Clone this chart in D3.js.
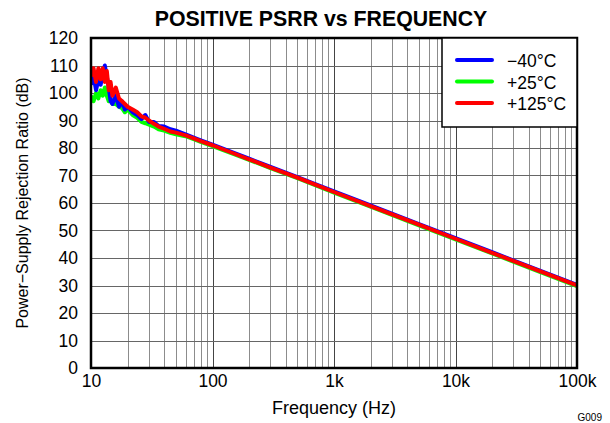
<!DOCTYPE html>
<html><head><meta charset="utf-8">
<script src="https://cdn.jsdelivr.net/npm/d3@7"></script>
<style>body{margin:0;background:#fff}svg{display:block;font-family:"Liberation Sans",Arial,sans-serif}</style>
</head><body><svg id="c" width="610" height="423"></svg>
<script>
const freqs = [10,10.5,11,11.5,12,12.5,13,13.5,14,14.5,15,16,17,18,19,20,22,24,26,28,30,33,36,40,45,50,60,70,80,100,150,200,300,500,700,1000,2000,5000,10000,20000,50000,100000];
const psrrM40 = [103,106,101,105,103,107,110,106,102,97,96,99,95,97,94,95,93,92,90.5,92,89.5,89.5,88,87.8,86.8,86.3,85,83.8,82.8,81.2,78.2,76.1,73.1,69.4,66.9,64.2,59.1,52.3,47.2,42.1,35.3,30.2];
const psrr25 = [99,97,100,98,101,99,102,99,97,98,96,96,95,94.5,93,94,92,91,89.5,89,88.5,87.8,86.8,86.3,85.5,85,84.3,83.2,82.2,80.7,77.8,75.7,72.7,69,66.5,63.8,58.7,51.9,46.8,41.7,34.9,29.8];
const psrr125 = [106,109,104,109,105,109,104,108,101,104,99,102,98,97,96,95,94,93,91.5,91,90,88.8,87.8,87,86,85.6,84.6,83.5,82.5,81,78,75.9,72.9,69.2,66.7,64,58.9,52.1,47,41.9,35.1,30];
const seriesNames = ["\u221240\u00b0C","+25\u00b0C","+125\u00b0C"];
const seriesColors = ["#0000ff","#00ff00","#ff0000"];
const yTicks = [0,10,20,30,40,50,60,70,80,90,100,110,120];
const xTicks = [10,100,1000,10000,100000];
const xTickLabels = ["10","100","1k","10k","100k"];

const svg = d3.select("#c");
const L=91, R=577, T=38, B=368;
const x = d3.scaleLog().domain([10,100000]).range([L,R]);
const y = d3.scaleLinear().domain([0,120]).range([B,T]);

// minor vertical grid
const minor=[];
for(let d=10; d<100000; d*=10) for(let k=2;k<=9;k++) minor.push(d*k);
svg.append("g").selectAll("line").data(minor).join("line")
  .attr("x1",d=>Math.round(x(d))+0.5).attr("x2",d=>Math.round(x(d))+0.5)
  .attr("y1",T).attr("y2",B).attr("stroke","#8c8c8c").attr("stroke-width",1);
svg.append("g").selectAll("line").data(xTicks).join("line")
  .attr("x1",d=>Math.round(x(d))+0.5).attr("x2",d=>Math.round(x(d))+0.5)
  .attr("y1",T).attr("y2",B).attr("stroke","#444").attr("stroke-width",1);
svg.append("g").selectAll("line").data(yTicks).join("line")
  .attr("x1",L).attr("x2",R)
  .attr("y1",d=>Math.round(y(d))+0.5).attr("y2",d=>Math.round(y(d))+0.5)
  .attr("stroke","#666").attr("stroke-width",1);

// axes labels via d3 axes
const yAxis = svg.append("g").attr("transform",`translate(${L},0)`)
  .call(d3.axisLeft(y).tickValues(yTicks).tickSize(0).tickPadding(13));
const xAxis = svg.append("g").attr("transform",`translate(0,${B})`)
  .call(d3.axisBottom(x).tickValues(xTicks).tickFormat((d,i)=>xTickLabels[i]).tickSize(0).tickPadding(7));
[yAxis,xAxis].forEach(a=>{a.select(".domain").remove();a.selectAll("text").attr("font-size",17.5).attr("fill","#000").attr("font-family","Liberation Sans, Arial, sans-serif");});

// data lines
const line = d3.line().x((d,i)=>x(freqs[i])).y(d=>y(d)).curve(d3.curveLinear);
svg.append("clipPath").attr("id","pc").append("rect").attr("x",L).attr("y",T).attr("width",R-L).attr("height",B-T);
const dataSets=[psrrM40,psrr25,psrr125];
const order=[1,0,2];
const g = svg.append("g").attr("clip-path","url(#pc)");
order.forEach(i=>{
  g.append("path").attr("d",line(dataSets[i])).attr("fill","none")
   .attr("stroke",seriesColors[i]).attr("stroke-width",4).attr("stroke-linejoin","round");
});

// border
svg.append("rect").attr("x",L).attr("y",T).attr("width",R-L).attr("height",B-T)
  .attr("fill","none").attr("stroke","#000").attr("stroke-width",2.5);

// legend
const lg = svg.append("g");
lg.append("rect").attr("x",442).attr("y",T).attr("width",R-442).attr("height",89)
  .attr("fill","#fff").attr("stroke","#000").attr("stroke-width",1.5);
seriesNames.forEach((n,i)=>{
  const yy = 60 + i*21.5;
  lg.append("line").attr("x1",457).attr("x2",492).attr("y1",yy).attr("y2",yy)
    .attr("stroke",seriesColors[i]).attr("stroke-width",4).attr("stroke-linecap","round");
  lg.append("text").attr("x",507).attr("y",yy+7).attr("font-size",17.5).text(n);
});

// titles
svg.append("text").attr("x",321).attr("y",26).attr("text-anchor","middle")
  .attr("font-size",21.3).attr("font-weight","bold").text("POSITIVE PSRR vs FREQUENCY");
svg.append("text").attr("x",(L+R)/2).attr("y",414).attr("text-anchor","middle")
  .attr("font-size",18).text("Frequency (Hz)");
svg.append("text").attr("transform",`translate(28,${(T+B)/2}) rotate(-90)`).attr("text-anchor","middle")
  .attr("font-size",16).text("Power\u2212Supply Rejection Ratio (dB)");
svg.append("text").attr("x",602).attr("y",421).attr("text-anchor","end")
  .attr("font-size",10).text("G009");
</script></body></html>
